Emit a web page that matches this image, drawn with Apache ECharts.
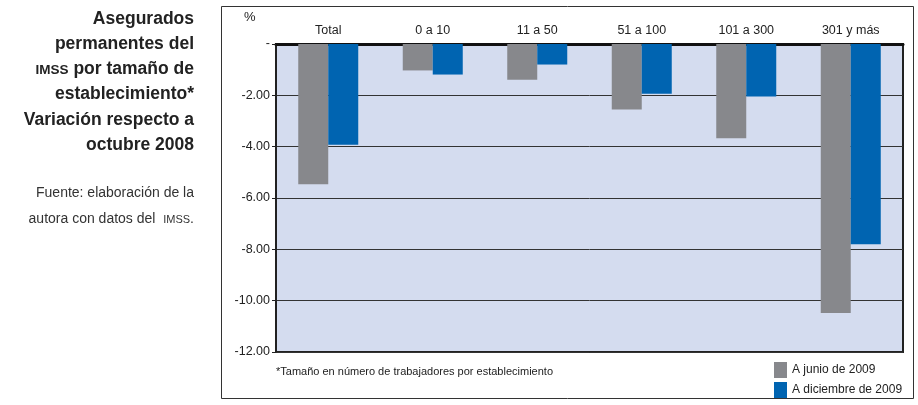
<!DOCTYPE html>
<html><head><meta charset="utf-8">
<script src="https://cdn.jsdelivr.net/npm/echarts@6/dist/echarts.min.js"></script>
<style>html,body{margin:0;padding:0;background:#fff}#c{width:918px;height:405px}</style>
</head><body><div id="c"></div>
<script>
var categories = ['Total', '0 a 10', '11 a 50', '51 a 100', '101 a 300', '301 y más'];
var junio2009 = [-5.46, -1.03, -1.39, -2.55, -3.67, -10.48];
var diciembre2009 = [-3.93, -1.19, -0.80, -1.94, -2.05, -7.80];
var seriesNames = ['A junio de 2009', 'A diciembre de 2009'];
var titleLines = [['Asegurados'], ['permanentes del'], ['IMSS', ' por tamaño de'], ['establecimiento*'], ['Variación respecto a'], ['octubre 2008']];
var sourceLines = [['Fuente: elaboración de la'], ['autora con datos del  ', 'IMSS', '.']];
var footnote = '*Tamaño en número de trabajadores por establecimiento';

var FONT = '"Liberation Sans", Arial, sans-serif';
var chart = echarts.init(document.getElementById('c'));
function richLine(parts, small) {
  return parts.map(function (p) { return (p === 'IMSS' ? '{s|' : '{n|') + p + '}'; }).join('');
}
var graphics = [
  {type: 'rect', shape: {x: 221.5, y: 6.5, width: 692, height: 392}, style: {fill: 'none', stroke: '#333', lineWidth: 1}, z: -1},
  {type: 'text', style: {text: '%', x: 244, y: 11, fill: '#222', font: '13px ' + FONT}}
];
titleLines.forEach(function (t, i) {
  graphics.push({type: 'text', style: {text: richLine(t), x: 194, y: 6 + i * 25.2, align: 'right', fill: '#222',
    rich: {
      n: {fontSize: 17.5, fontWeight: 'bold', fontFamily: FONT, fill: '#222', lineHeight: 22, verticalAlign: 'bottom'},
      s: {fontSize: 13.5, fontWeight: 'bold', fontFamily: FONT, fill: '#222', lineHeight: 22, verticalAlign: 'bottom', padding: [0, 0, 1, 0]}
    }}});
});
sourceLines.forEach(function (t, i) {
  graphics.push({type: 'text', style: {text: richLine(t), x: 194, y: 182 + i * 26, align: 'right', fill: '#333',
    rich: {
      n: {fontSize: 14, fontFamily: FONT, fill: '#333', lineHeight: 18, verticalAlign: 'bottom'},
      s: {fontSize: 11, fontFamily: FONT, fill: '#333', lineHeight: 18, verticalAlign: 'bottom', padding: [0, 0, 1, 0]}
    }}});
});
graphics.push({type: 'text', style: {text: footnote, x: 276, y: 366, fill: '#222', font: '11px ' + FONT}});

var legendCommon = {itemWidth: 13, itemHeight: 16, icon: 'rect', selectedMode: false, left: 774,
  textStyle: {fontSize: 12, color: '#222'}, padding: 0, itemGap: 0};
chart.setOption({
  animation: false,
  textStyle: {fontFamily: FONT},
  grid: {left: 276, right: 15, top: 44, bottom: 53, show: true, backgroundColor: '#d4dcef', borderColor: '#222', borderWidth: 2},
  legend: [
    Object.assign({data: [seriesNames[0]], top: 362}, legendCommon),
    Object.assign({data: [seriesNames[1]], top: 382}, legendCommon)
  ],
  xAxis: {
    type: 'category', data: categories, position: 'top',
    axisLine: {lineStyle: {color: '#111', width: 3}},
    axisTick: {inside: true, length: 6, lineStyle: {color: '#111', width: 1}},
    axisLabel: {color: '#222', fontSize: 12.5, margin: 7}
  },
  yAxis: {
    type: 'value', min: -12, max: 0, interval: 2,
    axisLine: {show: true, lineStyle: {color: '#222', width: 1.5}},
    axisTick: {show: true, length: 4, lineStyle: {color: '#222'}},
    splitLine: {lineStyle: {color: '#333', width: 1}},
    axisLabel: {color: '#222', fontSize: 12.5, margin: 6, formatter: function (v) { return v === 0 ? '-' : v.toFixed(2); }}
  },
  series: [
    {name: seriesNames[0], type: 'bar', data: junio2009, barWidth: 30, barGap: '0%', itemStyle: {color: '#87888c'}},
    {name: seriesNames[1], type: 'bar', data: diciembre2009, barWidth: 30, itemStyle: {color: '#0064b1'}}
  ],
  graphic: graphics
});
</script></body></html>
